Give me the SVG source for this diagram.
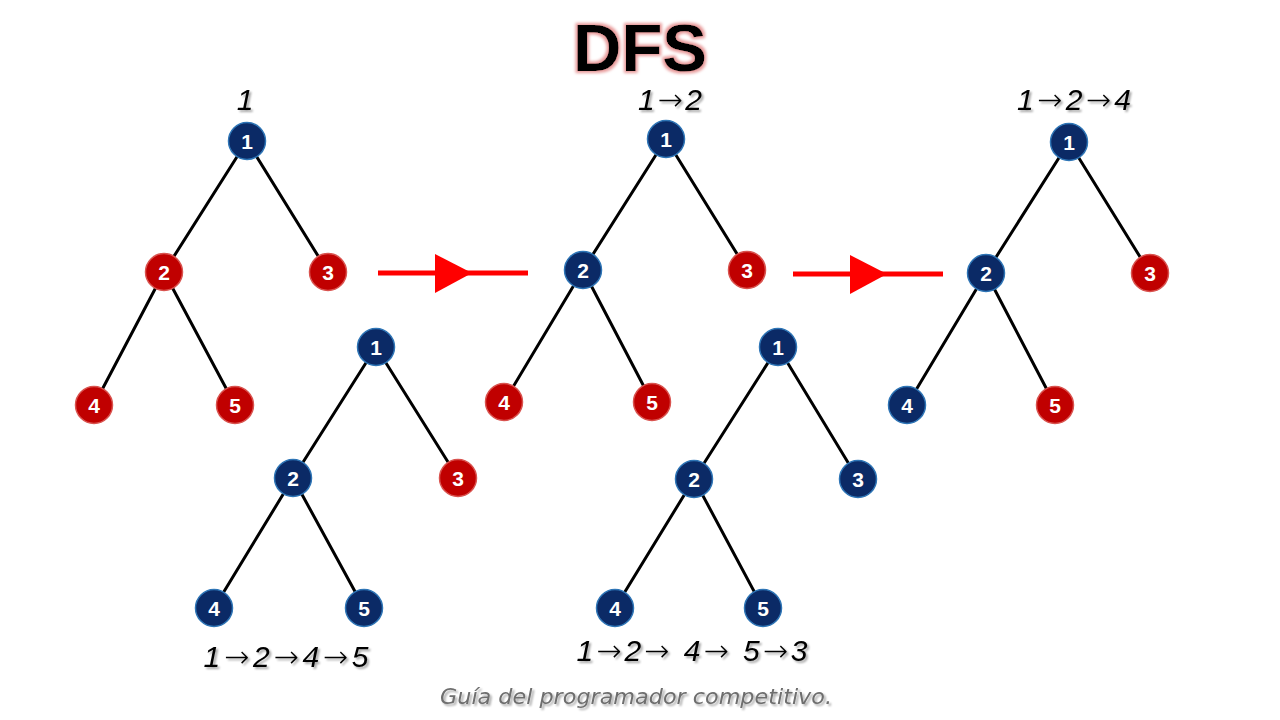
<svg xmlns="http://www.w3.org/2000/svg" width="1280" height="720" viewBox="0 0 1280 720">
<defs>
<filter id="glow" x="-20%" y="-20%" width="140%" height="140%">
<feMorphology in="SourceAlpha" operator="dilate" radius="2" result="d"/>
<feGaussianBlur in="d" stdDeviation="1.5" result="b"/>
<feFlood flood-color="#e89a9a"/>
<feComposite in2="b" operator="in" result="g"/>
<feMerge><feMergeNode in="g"/><feMergeNode in="SourceGraphic"/></feMerge>
</filter>
<filter id="sh" x="-10%" y="-20%" width="130%" height="150%">
<feGaussianBlur in="SourceAlpha" stdDeviation="1.2"/>
<feOffset dx="2" dy="2" result="o"/>
<feComponentTransfer in="o" result="s"><feFuncA type="linear" slope="0.35"/></feComponentTransfer>
<feMerge><feMergeNode in="s"/><feMergeNode in="SourceGraphic"/></feMerge>
</filter>
</defs>
<style>
.e{stroke:#000;stroke-width:3;fill:none}
.b{fill:#0b2a66;stroke:#2e75b6;stroke-width:1.5}
.r{fill:#c00000;stroke:#d9534f;stroke-width:1.5}
.n{font-family:"Liberation Sans",Arial,sans-serif;font-weight:bold;font-size:21px;fill:#fff;text-anchor:middle}
.lab{font-family:"Liberation Sans",Arial,sans-serif;font-style:italic;font-size:30px;fill:#000;text-anchor:middle}
.a{font-family:"DejaVu Sans",sans-serif;font-style:normal;font-weight:200}
.arr{stroke:#ff0000;stroke-width:5}
</style>
<rect width="1280" height="720" fill="#fff"/>
<text x="640" y="71" font-family="Liberation Sans,Arial,sans-serif" font-weight="bold" font-size="67" text-anchor="middle" filter="url(#glow)">DFS</text>

<g id="connectors">
<g class="e">
<path d="M247,141 L164,272 M247,141 L328,272 M164,272 L94,405 M164,272 L235,405"/>
<path d="M666,139 L583,270 M666,139 L747,270 M583,270 L504,402 M583,270 L652,402"/>
<path d="M1069,142 L986,273 M1069,142 L1150,273 M986,273 L907,405 M986,273 L1055,405"/>
<path d="M376,347 L293,478 M376,347 L458,478 M293,478 L214,608 M293,478 L364,608"/>
<path d="M778,347 L694,479 M778,347 L858,479 M694,479 L615,608 M694,479 L763,608"/>
</g>
<line class="arr" x1="378" y1="273" x2="528" y2="273"/>
<polygon points="435,254 472,273 435,293" fill="#ff0000"/>
<line class="arr" x1="793" y1="274" x2="943" y2="274"/>
<polygon points="850,255 887,274 850,294" fill="#ff0000"/>
</g>

<g id="tree1">
<circle class="b" cx="247" cy="141" r="18.5"/><text class="n" x="247" y="148.5">1</text>
<circle class="r" cx="164" cy="272" r="18.5"/><text class="n" x="164" y="279.5">2</text>
<circle class="r" cx="328" cy="272" r="18.5"/><text class="n" x="328" y="279.5">3</text>
<circle class="r" cx="94" cy="405" r="18.5"/><text class="n" x="94" y="412.5">4</text>
<circle class="r" cx="235" cy="405" r="18.5"/><text class="n" x="235" y="412.5">5</text>
<text class="lab" x="245" y="110" filter="url(#sh)">1</text>
</g>

<g id="tree2">
<circle class="b" cx="666" cy="139" r="18.5"/><text class="n" x="666" y="146.5">1</text>
<circle class="b" cx="583" cy="270" r="18.5"/><text class="n" x="583" y="277.5">2</text>
<circle class="r" cx="747" cy="270" r="18.5"/><text class="n" x="747" y="277.5">3</text>
<circle class="r" cx="504" cy="402" r="18.5"/><text class="n" x="504" y="409.5">4</text>
<circle class="r" cx="652" cy="402" r="18.5"/><text class="n" x="652" y="409.5">5</text>
<text class="lab" x="670" y="110" filter="url(#sh)" textLength="64" lengthAdjust="spacing">1<tspan class="a">→</tspan>2</text>
</g>

<g id="tree3">
<circle class="b" cx="1069" cy="142" r="18.5"/><text class="n" x="1069" y="149.5">1</text>
<circle class="b" cx="986" cy="273" r="18.5"/><text class="n" x="986" y="280.5">2</text>
<circle class="r" cx="1150" cy="273" r="18.5"/><text class="n" x="1150" y="280.5">3</text>
<circle class="b" cx="907" cy="405" r="18.5"/><text class="n" x="907" y="412.5">4</text>
<circle class="r" cx="1055" cy="405" r="18.5"/><text class="n" x="1055" y="412.5">5</text>
<text class="lab" x="1074" y="110" filter="url(#sh)" textLength="114" lengthAdjust="spacing">1<tspan class="a">→</tspan>2<tspan class="a">→</tspan>4</text>
</g>

<g id="tree4">
<circle class="b" cx="376" cy="347" r="18.5"/><text class="n" x="376" y="354.5">1</text>
<circle class="b" cx="293" cy="478" r="18.5"/><text class="n" x="293" y="485.5">2</text>
<circle class="r" cx="458" cy="478" r="18.5"/><text class="n" x="458" y="485.5">3</text>
<circle class="b" cx="214" cy="608" r="18.5"/><text class="n" x="214" y="615.5">4</text>
<circle class="b" cx="364" cy="608" r="18.5"/><text class="n" x="364" y="615.5">5</text>
<text class="lab" x="286" y="667" filter="url(#sh)" textLength="165" lengthAdjust="spacing">1<tspan class="a">→</tspan>2<tspan class="a">→</tspan>4<tspan class="a">→</tspan>5</text>
</g>

<g id="tree5">
<circle class="b" cx="778" cy="347" r="18.5"/><text class="n" x="778" y="354.5">1</text>
<circle class="b" cx="694" cy="479" r="18.5"/><text class="n" x="694" y="486.5">2</text>
<circle class="b" cx="858" cy="479" r="18.5"/><text class="n" x="858" y="486.5">3</text>
<circle class="b" cx="615" cy="608" r="18.5"/><text class="n" x="615" y="615.5">4</text>
<circle class="b" cx="763" cy="608" r="18.5"/><text class="n" x="763" y="615.5">5</text>
<text class="lab" x="692" y="661" filter="url(#sh)" textLength="231" lengthAdjust="spacing">1<tspan class="a">→</tspan>2<tspan class="a">→</tspan> 4<tspan class="a">→</tspan> 5<tspan class="a">→</tspan>3</text>
</g>

<text x="636" y="704" font-family="DejaVu Sans,sans-serif" font-style="italic" font-size="21" fill="#6e6e6e" text-anchor="middle" filter="url(#sh)" textLength="392" lengthAdjust="spacingAndGlyphs">Guía del programador competitivo.</text>
</svg>
